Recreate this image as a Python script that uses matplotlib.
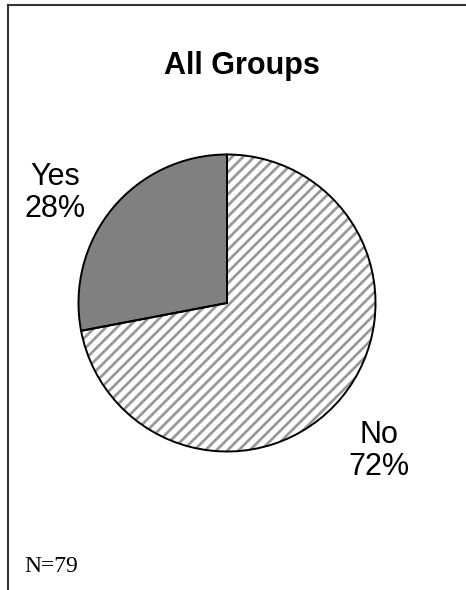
import matplotlib

matplotlib.use("Agg")
import matplotlib.pyplot as plt
from matplotlib.lines import Line2D

labels = ["Yes", "No"]
percents = [28, 72]
n_total = 79
title = "All Groups"

plt.rcParams["hatch.linewidth"] = 2.0
plt.rcParams["font.family"] = ["Liberation Sans", "DejaVu Sans"]

fig = plt.figure(figsize=(4.66, 5.9), dpi=100)
fig.patch.set_facecolor("white")

# frame: top and left edges only
fig.add_artist(Line2D([8 / 466, 465 / 466], [1 - 5 / 590, 1 - 5 / 590],
                      transform=fig.transFigure, color="#333333", lw=1.5))
fig.add_artist(Line2D([8 / 466, 8 / 466], [1 - 5 / 590, 0],
                      transform=fig.transFigure, color="#333333", lw=1.5))

ax = fig.add_axes([77 / 466, 137 / 590, 300 / 466, 300 / 590])

# hatched fill layer
wedges, _ = ax.pie(percents, startangle=90, counterclock=True,
                   colors=["#808080", "white"],
                   wedgeprops=dict(linewidth=0, edgecolor="#999999"))
wedges[1].set_hatch("///")
wedges[0].set_edgecolor("#808080")

# black outlines
ax.pie(percents, startangle=90, counterclock=True,
       wedgeprops=dict(fill=False, linewidth=1.4, edgecolor="black"))
ax.set_aspect("equal")
ax.set_xlim(-1.01, 1.01)
ax.set_ylim(-1.01, 1.01)

fig.text(242 / 466, 1 - 66 / 590, title, ha="center", va="center",
         fontsize=22, fontweight="bold")
fig.text(55 / 466, 1 - 193 / 590, f"{labels[0]}\n{percents[0]}%",
         ha="center", va="center", fontsize=22, linespacing=1.1)
fig.text(379 / 466, 1 - 451 / 590, f"{labels[1]}\n{percents[1]}%",
         ha="center", va="center", fontsize=22, linespacing=1.1)
fig.text(24 / 466, 1 - 566 / 590, f"N={n_total}", ha="left", va="center",
         fontsize=17, family=["Liberation Serif", "DejaVu Serif"])

fig.savefig("out.png", dpi=100)
